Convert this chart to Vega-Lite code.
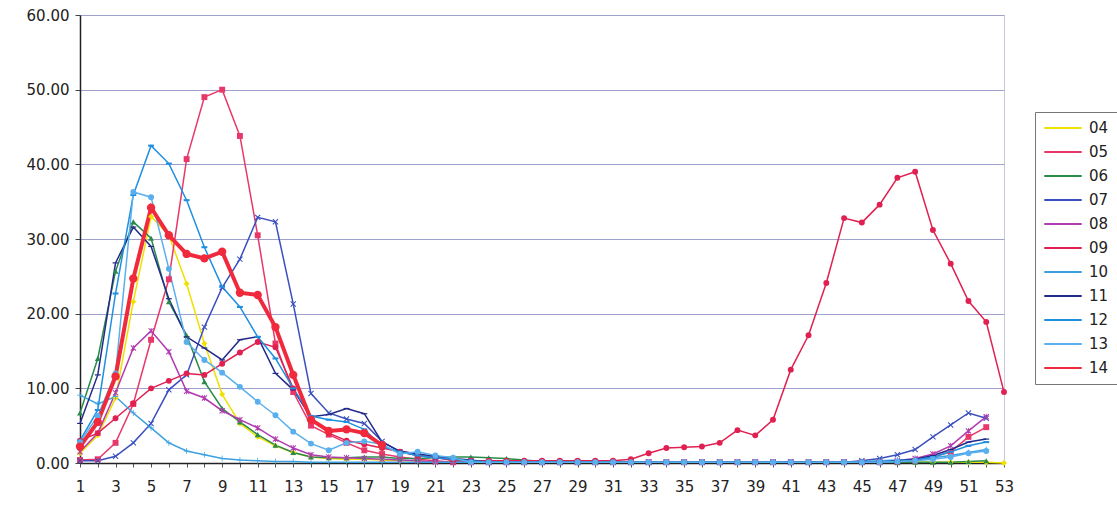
{
  "$schema": "https://vega.github.io/schema/vega-lite/v6.json",
  "width": 924,
  "height": 448,
  "autosize": {"type": "none"},
  "padding": {"left": 80, "top": 15, "right": 113, "bottom": 43},
  "background": "white",
  "config": {
    "view": {"stroke": "#c8c8d8", "strokeWidth": 1},
    "axis": {"labelFont": "DejaVu Sans", "labelFontSize": 15, "labelColor": "#222", "titleFontSize": 0}
  },
  "data": {"values": [
    {"w":1,"04":1.3,"05":0.4,"06":6.7,"07":0.3,"08":1.5,"09":3,"10":9.1,"11":5.3,"12":3,"13":2.8,"14":2.2},
    {"w":2,"04":3.7,"05":0.5,"06":14,"07":0.3,"08":4,"09":4,"10":7.9,"11":11.8,"12":7.1,"13":6.3,"14":5.5},
    {"w":3,"04":8.7,"05":2.7,"06":25.7,"07":0.9,"08":9.4,"09":6,"10":8.9,"11":26.8,"12":22.7,"13":12,"14":11.6},
    {"w":4,"04":21.6,"05":7.9,"06":32.3,"07":2.7,"08":15.4,"09":8,"10":6.7,"11":31.6,"12":35.9,"13":36.3,"14":24.7},
    {"w":5,"04":33,"05":16.5,"06":30.1,"07":5.3,"08":17.7,"09":10,"10":4.7,"11":29,"12":42.5,"13":35.6,"14":34.2},
    {"w":6,"04":30.5,"05":24.6,"06":21.6,"07":9.8,"08":14.9,"09":11,"10":2.7,"11":22,"12":40.1,"13":26,"14":30.5},
    {"w":7,"04":24,"05":40.7,"06":17.1,"07":11.8,"08":9.6,"09":12,"10":1.6,"11":16.9,"12":35.2,"13":16.2,"14":28},
    {"w":8,"04":16,"05":49,"06":10.9,"07":18.2,"08":8.7,"09":11.8,"10":1.1,"11":15.4,"12":28.9,"13":13.8,"14":27.4},
    {"w":9,"04":9.2,"05":50,"06":7.3,"07":23.5,"08":7,"09":13.3,"10":0.6,"11":13.8,"12":23.6,"13":12.1,"14":28.3},
    {"w":10,"04":5.3,"05":43.8,"06":5.5,"07":27.3,"08":5.8,"09":14.8,"10":0.4,"11":16.5,"12":20.9,"13":10.2,"14":22.8},
    {"w":11,"04":3.5,"05":30.5,"06":3.8,"07":32.9,"08":4.7,"09":16.2,"10":0.3,"11":16.9,"12":16.9,"13":8.2,"14":22.5},
    {"w":12,"04":2.3,"05":16,"06":2.4,"07":32.3,"08":3.2,"09":15.5,"10":0.2,"11":12,"12":14,"13":6.4,"14":18.2},
    {"w":13,"04":1.4,"05":9.5,"06":1.4,"07":21.3,"08":2,"09":10,"10":0.2,"11":9.8,"12":10,"13":4.2,"14":11.8},
    {"w":14,"04":0.8,"05":5,"06":0.8,"07":9.3,"08":1.1,"09":6,"10":0.1,"11":6.2,"12":6.3,"13":2.6,"14":5.8},
    {"w":15,"04":0.6,"05":3.8,"06":0.7,"07":6.7,"08":0.8,"09":4,"10":0.1,"11":6.5,"12":5.8,"13":1.7,"14":4.3},
    {"w":16,"04":0.5,"05":2.7,"06":0.7,"07":5.9,"08":0.7,"09":3,"10":0.1,"11":7.3,"12":5.5,"13":2.7,"14":4.5},
    {"w":17,"04":0.5,"05":1.7,"06":0.8,"07":5.3,"08":0.6,"09":2.5,"10":0.1,"11":6.6,"12":4.5,"13":2.9,"14":4},
    {"w":18,"04":0.4,"05":1.2,"06":0.8,"07":2.9,"08":0.5,"09":2,"10":0.1,"11":2.8,"12":2.2,"13":2.5,"14":2.4},
    {"w":19,"04":0.3,"05":0.8,"06":0.6,"07":1.5,"08":0.4,"09":1.5,"10":0.1,"11":1.6,"12":1.5,"13":1.2},
    {"w":20,"04":0.3,"05":0.5,"06":0.6,"07":1,"08":0.3,"09":1,"10":0.1,"11":1.2,"12":1,"13":1.5},
    {"w":21,"04":0.1,"05":0.3,"06":0.7,"07":0.7,"08":0.1,"09":0.8,"10":0.1,"11":0.9,"12":0.7,"13":1},
    {"w":22,"04":0.1,"05":0.1,"06":0.8,"07":0.4,"08":0.1,"09":0.3,"10":0.1,"11":0.6,"12":0.5,"13":0.7},
    {"w":23,"04":0.1,"05":0.1,"06":0.8,"07":0.3,"08":0.1,"09":0.3,"10":0.1,"11":0.4,"12":0.3,"13":0.1},
    {"w":24,"04":0.1,"05":0.1,"06":0.7,"07":0.1,"08":0.1,"09":0.3,"10":0.1,"11":0.1,"12":0.1,"13":0.1},
    {"w":25,"04":0.1,"05":0.1,"06":0.6,"07":0.1,"08":0.1,"09":0.3,"10":0.1,"11":0.1,"12":0.1,"13":0.1},
    {"w":26,"04":0.1,"05":0.1,"06":0.4,"07":0.1,"08":0.1,"09":0.3,"10":0.1,"11":0.1,"12":0.1,"13":0.1},
    {"w":27,"04":0.1,"05":0.1,"06":0.2,"07":0.1,"08":0.1,"09":0.3,"10":0.1,"11":0.1,"12":0.1,"13":0.1},
    {"w":28,"04":0.1,"05":0.1,"06":0.1,"07":0.1,"08":0.1,"09":0.3,"10":0.1,"11":0.1,"12":0.1,"13":0.1},
    {"w":29,"04":0.1,"05":0.1,"06":0.1,"07":0.1,"08":0.1,"09":0.3,"10":0.1,"11":0.1,"12":0.1,"13":0.1},
    {"w":30,"04":0.1,"05":0.1,"06":0.1,"07":0.1,"08":0.1,"09":0.3,"10":0.1,"11":0.1,"12":0.1,"13":0.1},
    {"w":31,"04":0.1,"05":0.1,"06":0.1,"07":0.1,"08":0.1,"09":0.3,"10":0.1,"11":0.1,"12":0.1,"13":0.1},
    {"w":32,"04":0.1,"05":0.1,"06":0.1,"07":0.1,"08":0.1,"09":0.5,"10":0.1,"11":0.1,"12":0.1,"13":0.1},
    {"w":33,"04":0.1,"05":0.1,"06":0.1,"07":0.1,"08":0.1,"09":1.3,"10":0.1,"11":0.1,"12":0.1,"13":0.1},
    {"w":34,"04":0.1,"05":0.1,"06":0.1,"07":0.1,"08":0.1,"09":2,"10":0.1,"11":0.1,"12":0.1,"13":0.1},
    {"w":35,"04":0.1,"05":0.1,"06":0.1,"07":0.1,"08":0.1,"09":2.1,"10":0.1,"11":0.1,"12":0.1,"13":0.1},
    {"w":36,"04":0.1,"05":0.1,"06":0.1,"07":0.1,"08":0.1,"09":2.2,"10":0.1,"11":0.1,"12":0.1,"13":0.1},
    {"w":37,"04":0.1,"05":0.1,"06":0.1,"07":0.1,"08":0.1,"09":2.7,"10":0.1,"11":0.1,"12":0.1,"13":0.1},
    {"w":38,"04":0.1,"05":0.1,"06":0.1,"07":0.1,"08":0.1,"09":4.4,"10":0.1,"11":0.1,"12":0.1,"13":0.1},
    {"w":39,"04":0.1,"05":0.1,"06":0.1,"07":0.1,"08":0.1,"09":3.7,"10":0.1,"11":0.1,"12":0.1,"13":0.1},
    {"w":40,"04":0.1,"05":0.1,"06":0.1,"07":0.1,"08":0.1,"09":5.8,"10":0.1,"11":0.1,"12":0.1,"13":0.1},
    {"w":41,"04":0.1,"05":0.1,"06":0.1,"07":0.1,"08":0.1,"09":12.5,"10":0.1,"11":0.1,"12":0.1,"13":0.1},
    {"w":42,"04":0.1,"05":0.1,"06":0.1,"07":0.1,"08":0.1,"09":17.1,"10":0.1,"11":0.1,"12":0.1,"13":0.1},
    {"w":43,"04":0.1,"05":0.1,"06":0.1,"07":0.1,"08":0.1,"09":24.1,"10":0.1,"11":0.1,"12":0.1,"13":0.1},
    {"w":44,"04":0.1,"05":0.1,"06":0.1,"07":0.1,"08":0.1,"09":32.8,"10":0.1,"11":0.1,"12":0.1,"13":0.1},
    {"w":45,"04":0.1,"05":0.1,"06":0.1,"07":0.3,"08":0.1,"09":32.2,"10":0.2,"11":0.1,"12":0.1,"13":0.1},
    {"w":46,"04":0.1,"05":0.1,"06":0.1,"07":0.6,"08":0.1,"09":34.6,"10":0.3,"11":0.1,"12":0.1,"13":0.1},
    {"w":47,"04":0.1,"05":0.1,"06":0.1,"07":1.1,"08":0.3,"09":38.2,"10":0.4,"11":0.3,"12":0.2,"13":0.2},
    {"w":48,"04":0.1,"05":0.3,"06":0.1,"07":1.8,"08":0.6,"09":39,"10":0.5,"11":0.5,"12":0.4,"13":0.3},
    {"w":49,"04":0.1,"05":0.8,"06":0.1,"07":3.5,"08":1.2,"09":31.2,"10":0.7,"11":1,"12":0.8,"13":0.5},
    {"w":50,"04":0.1,"05":1.5,"06":0.1,"07":5.1,"08":2.3,"09":26.7,"10":1,"11":1.8,"12":1.5,"13":0.8},
    {"w":51,"04":0.1,"05":3.5,"06":0.2,"07":6.7,"08":4.3,"09":21.7,"10":1.4,"11":2.8,"12":2.3,"13":1.3},
    {"w":52,"04":0.1,"05":4.8,"06":0.3,"07":6,"08":6.2,"09":18.9,"10":1.8,"11":3.2,"12":2.8,"13":1.6},
    {"w":53,"04":0,"09":9.5}
  ]},
  "transform": [
    {"fold": ["04","05","06","07","08","09","10","11","12","13","14"], "as": ["s","v"]},
    {"filter": "isValid(datum.v)"},
    {"lookup": "s", "from": {"data": {"values": [
      {"k":"04","m":"m04"},{"k":"05","m":"m05"},{"k":"06","m":"m06"},{"k":"07","m":"m07"},{"k":"08","m":"m08"},{"k":"09","m":"m09"},
      {"k":"10","m":"m10"},{"k":"11","m":"m11"},{"k":"12","m":"m12"},{"k":"13","m":"m13"},{"k":"14","m":"m14"}]}, "key": "k", "fields": ["m"]}}
  ],
  "encoding": {
    "x": {"field": "w", "type": "quantitative",
      "scale": {"domain": [1,53], "nice": false, "zero": false},
      "axis": {"title": null, "grid": false, "values": [1,2,3,4,5,6,7,8,9,10,11,12,13,14,15,16,17,18,19,20,21,22,23,24,25,26,27,28,29,30,31,32,33,34,35,36,37,38,39,40,41,42,43,44,45,46,47,48,49,50,51,52,53],
        "labelExpr": "datum.value % 2 == 1 ? datum.label : ''", "labelPadding": 12, "tickSize": 4, "tickColor": "#555", "domainColor": "#222", "domainWidth": 1.5, "labelFlush": false, "labelOverlap": false}},
    "y": {"field": "v", "type": "quantitative",
      "scale": {"domain": [0,60], "nice": false},
      "axis": {"title": null, "values": [0,10,20,30,40,50,60], "format": ".2f", "grid": true, "gridColor": "#a0a0cc", "gridWidth": 1, "tickSize": 5, "tickColor": "#444", "domainColor": "#222", "domainWidth": 1.5, "labelPadding": 6}}
  },
  "layer": [
    {
      "mark": {"type": "line", "clip": false},
      "encoding": {
        "color": {"field": "s", "type": "nominal",
          "scale": {"domain": ["04","05","06","07","08","09","10","11","12","13","14"],
            "range": ["#f0e000","#e8386a","#2a8a4a","#3a4fbf","#b03cb0","#e02050","#3aa0e0","#232b8a","#1f8fe0","#5ab0ee","#f02a3c"]},
          "legend": {"title": null, "orient": "none", "legendX": 955, "legendY": 97, "strokeColor": "#777", "padding": 8,
            "symbolType": "stroke", "symbolSize": 1400, "symbolStrokeWidth": 2, "clipHeight": 16, "labelFont": "DejaVu Sans", "labelFontSize": 15, "labelColor": "#222", "rowPadding": 8, "labelOffset": 6}},
        "strokeWidth": {"condition": {"test": "datum.s === '14'", "value": 4}, "value": 1.5}
      }
    },
    {
      "mark": {"type": "point", "filled": true, "opacity": 1},
      "encoding": {
        "fill": {"field": "m", "type": "nominal", "legend": null,
          "scale": {"domain": ["m04","m05","m06","m07","m08","m09","m10","m11","m12","m13","m14"],
            "range": ["#f0e000","#e8386a","#2a8a4a","#3a4fbf","#b03cb0","#e02050","#3aa0e0","#232b8a","#1f8fe0","#5ab0ee","#f02a3c"]}},
        "shape": {"field": "m", "type": "nominal", "legend": null,
          "scale": {"domain": ["m04","m05","m06","m07","m08","m09","m10","m11","m12","m13","m14"],
            "range": ["diamond","square","triangle-up",
              "M-1,-0.75L-0.75,-1L0,-0.25L0.75,-1L1,-0.75L0.25,0L1,0.75L0.75,1L0,0.25L-0.75,1L-1,0.75L-0.25,0Z",
              "M-1,-0.75L-0.75,-1L0,-0.25L0.75,-1L1,-0.75L0.25,0L1,0.75L0.75,1L0,0.25L-0.75,1L-1,0.75L-0.25,0ZM-0.15,-1H0.15V1H-0.15Z",
              "circle",
              "M-0.12,-1H0.12V-0.12H1V0.12H0.12V1H-0.12V0.12H-1V-0.12H-0.12Z",
              "M-1,-0.2H1V0.2H-1Z",
              "M-1,-0.35H1V0.35H-1Z",
              "circle","circle"]}},
        "size": {"condition": {"test": "datum.s === '14'", "value": 70}, "value": 35}
      }
    }
  ]
}
